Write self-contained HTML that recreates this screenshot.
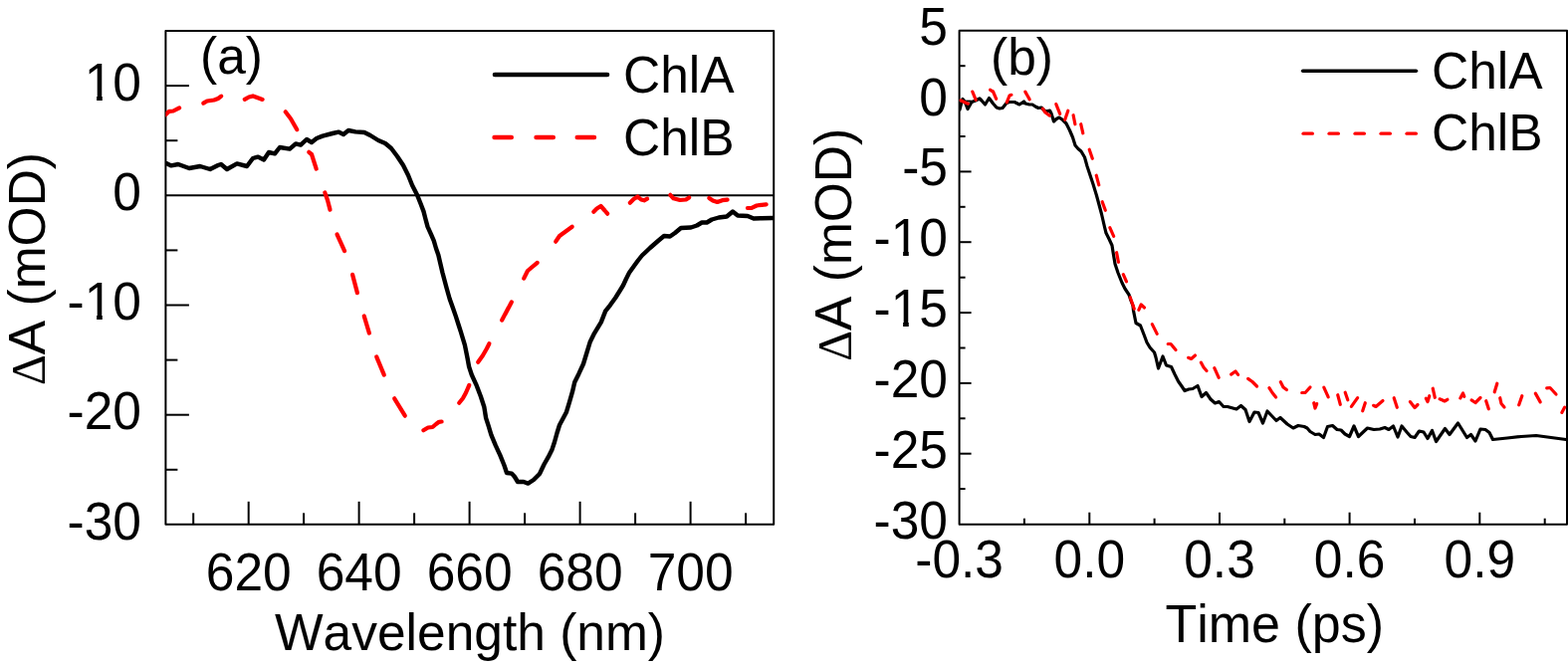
<!DOCTYPE html>
<html><head><meta charset="utf-8"><title>Transient absorption</title>
<style>html,body{margin:0;padding:0;background:#fff;width:1575px;height:670px;overflow:hidden}svg{display:block}</style>
</head><body>
<svg width="1575" height="670" viewBox="0 0 1575 670">
<rect width="1575" height="670" fill="#fff"/>
<defs><clipPath id="ca"><rect x="166.4" y="31.1" width="610.8" height="495.7"/></clipPath><clipPath id="cb"><rect x="963.6" y="30.8" width="610.4" height="495.9"/></clipPath></defs>
<g stroke="#000" stroke-width="2" fill="none" stroke-linejoin="round">
<rect x="166.4" y="31.1" width="610.8000000000001" height="495.69999999999993"/>
<line x1="166.4" y1="86.10000000000002" x2="189.9" y2="86.10000000000002"/>
<line x1="166.4" y1="306.5" x2="189.9" y2="306.5"/>
<line x1="166.4" y1="416.7" x2="189.9" y2="416.7"/>
<line x1="166.4" y1="141.20000000000002" x2="178.4" y2="141.20000000000002"/>
<line x1="166.4" y1="251.4" x2="178.4" y2="251.4"/>
<line x1="166.4" y1="361.6" x2="178.4" y2="361.6"/>
<line x1="166.4" y1="471.8" x2="178.4" y2="471.8"/>
<line x1="249.7" y1="526.8" x2="249.7" y2="503.79999999999995"/>
<line x1="360.6" y1="526.8" x2="360.6" y2="503.79999999999995"/>
<line x1="471.6" y1="526.8" x2="471.6" y2="503.79999999999995"/>
<line x1="582.6" y1="526.8" x2="582.6" y2="503.79999999999995"/>
<line x1="693.6" y1="526.8" x2="693.6" y2="503.79999999999995"/>
<line x1="194.2" y1="526.8" x2="194.2" y2="515.3"/>
<line x1="305.1" y1="526.8" x2="305.1" y2="515.3"/>
<line x1="416.1" y1="526.8" x2="416.1" y2="515.3"/>
<line x1="527.1" y1="526.8" x2="527.1" y2="515.3"/>
<line x1="638.1" y1="526.8" x2="638.1" y2="515.3"/>
<line x1="749.1" y1="526.8" x2="749.1" y2="515.3"/>
</g>
<line x1="166.4" y1="196.30" x2="777.2" y2="196.30" stroke="#000" stroke-width="2"/>
<polyline clip-path="url(#ca)" points="167.0,164.0 172.0,166.4 179.0,165.0 190.0,169.0 201.0,167.0 211.0,170.0 219.0,166.0 222.0,165.0 228.0,170.0 238.0,164.4 248.0,167.0 254.0,159.0 259.0,157.6 265.0,160.4 270.0,153.0 276.0,154.4 281.0,148.0 291.0,149.6 297.0,144.4 302.0,145.6 308.0,140.0 313.0,143.0 318.0,139.0 324.0,136.6 334.0,134.0 340.0,132.6 345.0,135.0 350.0,131.0 357.0,132.4 366.0,133.0 372.0,136.0 380.0,141.0 387.0,144.0 393.0,149.0 399.0,157.0 405.0,166.0 410.0,176.0 414.0,186.0 416.3,190.5 419.2,196.3 422.4,204.3 425.5,212.4 427.3,219.5 429.5,227.6 433.1,235.7 435.8,241.9 438.0,249.5 440.3,256.0 444.5,274.0 448.5,289.0 451.6,300.0 455.0,309.5 457.9,317.9 460.5,326.0 462.8,333.1 466.9,346.6 469.5,359.5 471.1,368.4 473.8,376.5 478.3,386.3 482.8,398.0 486.3,408.7 488.1,419.8 490.7,427.9 493.4,436.9 497.9,447.6 502.4,457.4 506.5,467.5 509.0,475.0 514.0,475.6 517.0,479.0 520.0,484.0 526.0,484.0 530.4,485.6 536.0,482.0 542.0,476.0 546.5,466.5 550.7,459.2 554.3,452.1 557.0,444.0 559.5,435.0 562.0,427.0 568.8,414.3 572.0,403.9 575.0,393.4 577.2,384.0 581.3,375.7 586.0,365.5 592.6,343.8 597.0,334.8 603.8,323.6 608.2,312.4 612.7,306.8 618.3,299.0 623.9,290.0 626.0,286.5 629.0,280.0 632.0,274.0 637.0,267.0 641.0,261.5 645.0,256.5 653.0,249.0 661.0,242.0 667.0,237.0 673.0,237.5 678.0,234.0 684.0,229.0 694.0,228.5 700.0,226.5 705.0,223.5 710.0,223.5 715.0,220.5 722.0,218.5 730.0,217.5 736.0,212.5 741.0,216.5 751.0,217.0 757.0,219.5 765.0,219.2 776.0,219.0" fill="none" stroke="#000" stroke-width="4.4" stroke-linejoin="round" stroke-linecap="round"/>
<g clip-path="url(#ca)" fill="none" stroke="#f00" stroke-width="4.2" stroke-linecap="round" stroke-linejoin="round">
<polyline points="166.3,115.2 170.0,111.8 174.0,111.5 180.1,108.4"/>
<polyline points="204.3,103.6 208.0,101.5 215.0,100.5 219.0,99.0 222.2,96.6"/>
<polyline points="245.8,99.8 250.0,97.5 254.0,96.4 259.0,98.3 263.6,99.9"/>
<polyline points="286.7,112.3 292.0,119.2 298.3,130.2"/>
<polyline points="310.3,152.8 313.0,155.0 317.7,169.6"/>
<polyline points="326.3,193.4 329.0,201.0 331.5,210.6"/>
<polyline points="338.5,235.4 346.1,252.1"/>
<polyline points="354.1,275.9 358.9,294.1"/>
<polyline points="365.7,317.4 370.9,334.6"/>
<polyline points="378.2,358.4 385.8,376.6"/>
<polyline points="396.2,400.3 406.8,417.7"/>
<polyline points="425.3,432.3 430.0,429.5 434.5,429.0 438.0,426.0 441.0,423.8 443.6,423.5"/>
<polyline points="461.2,404.7 465.0,400.0 468.0,394.5 471.3,386.9"/>
<polyline points="480.2,363.7 485.0,357.0 489.0,350.0 491.4,345.2"/>
<polyline points="504.2,321.6 513.8,303.4"/>
<polyline points="526.2,279.6 530.0,272.0 539.7,263.9"/>
<polyline points="558.2,242.7 562.0,237.0 574.7,227.8"/>
<polyline points="596.3,212.7 599.5,209.5 603.5,207.0 607.5,211.5 610.2,214.7"/>
<polyline points="632.8,203.7 636.5,200.0 640.5,197.5 644.0,200.5 647.0,201.3 650.1,199.7"/>
<polyline points="673.3,195.8 676.5,199.3 683.0,201.0 689.0,200.5 692.2,198.4"/>
<polyline points="712.3,199.0 716.0,201.5 720.5,203.0 725.5,201.2 730.6,200.6"/>
<polyline points="750.9,209.0 755.0,208.8 760.0,206.5 765.0,205.8 769.6,205.3"/>
</g>
<g stroke="#000" stroke-width="2" fill="none" stroke-linejoin="round">
<rect x="963.6" y="30.8" width="610.4" height="495.9"/>
<line x1="963.6" y1="101.6" x2="975.6" y2="101.6"/>
<line x1="963.6" y1="172.4" x2="975.6" y2="172.4"/>
<line x1="963.6" y1="243.2" x2="975.6" y2="243.2"/>
<line x1="963.6" y1="314.1" x2="975.6" y2="314.1"/>
<line x1="963.6" y1="384.9" x2="975.6" y2="384.9"/>
<line x1="963.6" y1="455.7" x2="975.6" y2="455.7"/>
<line x1="963.6" y1="66.2" x2="969.6" y2="66.2"/>
<line x1="963.6" y1="137.0" x2="969.6" y2="137.0"/>
<line x1="963.6" y1="207.8" x2="969.6" y2="207.8"/>
<line x1="963.6" y1="278.7" x2="969.6" y2="278.7"/>
<line x1="963.6" y1="349.5" x2="969.6" y2="349.5"/>
<line x1="963.6" y1="420.3" x2="969.6" y2="420.3"/>
<line x1="963.6" y1="491.1" x2="969.6" y2="491.1"/>
<line x1="1094.3" y1="526.7" x2="1094.3" y2="514.7"/>
<line x1="1225.0" y1="526.7" x2="1225.0" y2="514.7"/>
<line x1="1355.6" y1="526.7" x2="1355.6" y2="514.7"/>
<line x1="1486.3" y1="526.7" x2="1486.3" y2="514.7"/>
<line x1="1028.9" y1="526.7" x2="1028.9" y2="520.7"/>
<line x1="1159.6" y1="526.7" x2="1159.6" y2="520.7"/>
<line x1="1290.3" y1="526.7" x2="1290.3" y2="520.7"/>
<line x1="1421.0" y1="526.7" x2="1421.0" y2="520.7"/>
<line x1="1551.7" y1="526.7" x2="1551.7" y2="520.7"/>
</g>
<polyline clip-path="url(#cb)" points="964.0,110.0 965.0,106.0 967.0,99.5 969.5,103.0 972.0,109.5 976.0,102.5 980.0,101.0 984.0,99.0 986.0,101.0 989.5,105.0 993.5,98.5 997.5,104.0 1001.0,108.0 1004.0,109.0 1007.0,108.5 1011.0,103.5 1014.0,102.5 1019.0,102.5 1024.0,105.0 1028.5,102.0 1030.0,104.0 1034.0,105.0 1037.0,105.0 1040.0,107.0 1043.0,108.5 1046.0,108.0 1050.0,112.0 1054.5,111.0 1056.0,114.0 1058.5,122.0 1061.0,119.5 1064.0,118.0 1067.5,120.5 1071.0,124.0 1074.5,131.0 1077.5,138.0 1080.0,146.0 1083.0,149.5 1086.0,152.0 1089.5,158.0 1092.0,167.0 1095.0,176.0 1098.0,185.0 1101.5,196.5 1103.0,202.0 1106.5,215.0 1109.5,228.0 1111.0,234.0 1114.0,240.0 1117.0,246.5 1118.0,253.0 1120.0,265.0 1123.0,274.0 1127.0,284.0 1130.0,290.0 1134.0,296.0 1136.0,302.0 1138.0,307.0 1138.5,312.0 1141.0,324.5 1145.5,327.0 1149.0,336.0 1152.0,344.0 1155.0,349.0 1159.5,354.0 1161.0,359.0 1163.5,370.0 1168.0,358.0 1171.5,367.0 1176.5,368.5 1180.0,376.0 1183.5,383.0 1187.0,388.0 1190.0,392.5 1194.0,391.0 1198.0,390.5 1203.0,387.5 1207.0,398.5 1211.5,394.5 1216.0,401.0 1220.5,405.0 1224.5,403.5 1229.0,408.5 1233.0,408.5 1242.0,411.0 1246.5,407.5 1251.0,411.5 1255.0,423.5 1260.0,414.0 1264.0,414.5 1268.5,425.0 1273.0,413.0 1282.0,422.5 1286.0,419.5 1293.0,426.0 1299.0,430.0 1304.0,427.5 1310.0,428.5 1313.0,430.0 1316.0,433.5 1321.0,436.5 1325.0,436.0 1329.5,439.5 1333.5,428.5 1338.5,427.5 1343.0,431.5 1347.0,432.0 1351.0,436.0 1355.5,438.5 1360.0,428.0 1364.5,438.5 1373.5,430.0 1380.0,431.5 1386.0,431.0 1391.0,429.5 1395.0,431.5 1399.5,428.0 1404.0,439.0 1408.0,428.0 1413.0,434.0 1417.0,438.5 1421.0,439.5 1425.5,433.0 1430.0,434.0 1434.0,440.5 1438.5,432.5 1442.5,443.5 1451.5,430.5 1456.0,436.5 1464.5,425.0 1473.5,439.5 1477.5,436.5 1482.0,443.0 1487.0,431.0 1492.0,431.5 1496.0,434.5 1499.5,441.5 1514.0,440.0 1528.0,438.5 1543.0,437.5 1558.0,439.5 1573.0,441.5" fill="none" stroke="#000" stroke-width="3.2" stroke-linejoin="round" stroke-linecap="round"/>
<g clip-path="url(#cb)" fill="none" stroke="#f00" stroke-width="3.2" stroke-linecap="round" stroke-linejoin="round">
<polyline points="964.6,100.8 972.4,104.2"/>
<polyline points="976.8,92.1 980.2,100.4"/>
<polyline points="994.6,90.3 997.5,92.0 1000.7,99.4"/>
<polyline points="1011.3,102.9 1014.0,96.0 1015.9,95.3"/>
<polyline points="1029.8,92.1 1032.0,96.0 1034.2,99.9"/>
<polyline points="1047.4,109.1 1050.0,113.0 1054.4,116.1"/>
<polyline points="1060.8,104.6 1064.7,114.4"/>
<polyline points="1069.7,120.3 1072.8,111.2"/>
<polyline points="1078.1,115.7 1079.9,124.8"/>
<polyline points="1085.7,124.7 1087.8,133.8"/>
<polyline points="1094.2,150.2 1097.3,159.3"/>
<polyline points="1101.2,176.2 1103.8,185.8"/>
<polyline points="1107.2,202.7 1110.3,211.3"/>
<polyline points="1114.8,228.6 1118.7,237.4"/>
<polyline points="1121.6,253.7 1123.4,263.3"/>
<polyline points="1128.3,275.6 1131.5,282.9"/>
<polyline points="1135.2,298.7 1139.3,310.3"/>
<polyline points="1143.8,311.4 1146.2,306.0 1149.5,309.0"/>
<polyline points="1157.3,325.6 1162.2,335.4"/>
<polyline points="1173.2,345.5 1176.0,345.5 1181.0,351.5"/>
<polyline points="1193.6,359.3 1196.5,360.5 1200.5,357.0"/>
<polyline points="1206.3,364.1 1209.0,369.0 1212.0,372.5"/>
<polyline points="1219.8,369.6 1224.2,379.4"/>
<polyline points="1236.6,376.1 1241.0,373.0 1243.6,376.4"/>
<polyline points="1253.6,380.4 1258.0,383.5 1262.5,388.0"/>
<polyline points="1274.9,389.6 1278.0,394.5 1281.6,399.0"/>
<polyline points="1286.3,383.6 1289.0,389.0 1292.4,391.6"/>
<polyline points="1307.7,394.5 1311.0,394.5 1316.0,389.0"/>
<polyline points="1319.7,404.7 1321.0,410.0 1322.7,405.6"/>
<polyline points="1329.8,389.1 1334.2,398.9"/>
<polyline points="1343.7,396.7 1346.3,406.3"/>
<polyline points="1351.2,394.2 1353.8,401.8"/>
<polyline points="1357.4,408.4 1363.6,399.6"/>
<polyline points="1368.7,412.8 1371.3,404.7"/>
<polyline points="1379.6,407.3 1382.0,408.5 1389.0,402.5"/>
<polyline points="1400.2,399.7 1403.3,409.3"/>
<polyline points="1416.4,403.6 1421.0,409.5 1424.0,406.5"/>
<polyline points="1432.3,400.1 1434.0,403.5 1435.8,397.7"/>
<polyline points="1439.2,390.2 1441.3,399.3"/>
<polyline points="1446.1,400.8 1449.0,402.0 1451.0,403.0 1453.9,401.3"/>
<polyline points="1466.8,399.9 1469.5,395.0 1470.8,398.3"/>
<polyline points="1478.1,401.9 1482.0,404.5 1487.0,399.5"/>
<polyline points="1492.7,402.7 1495.3,410.8"/>
<polyline points="1501.2,393.8 1503.8,385.2"/>
<polyline points="1506.7,399.7 1508.0,405.5 1511.0,409.0"/>
<polyline points="1525.7,406.8 1528.8,397.7"/>
<polyline points="1542.3,395.1 1547.2,403.9"/>
<polyline points="1553.7,389.9 1557.0,389.5 1563.0,396.0"/>
<polyline points="1568.8,414.4 1571.7,409.1"/>
</g>
<line x1="497" y1="75" x2="610" y2="75" stroke="#000" stroke-width="4.6" stroke-linecap="round"/>
<g stroke="#f00" stroke-width="4.6" stroke-linecap="round">
<line x1="496.6" y1="138" x2="513.7" y2="138"/>
<line x1="538.5999999999999" y1="138" x2="555.7" y2="138"/>
<line x1="579.8" y1="138" x2="596.9000000000001" y2="138"/>
</g>
<line x1="1308.6" y1="71.2" x2="1422.5" y2="71.2" stroke="#000" stroke-width="3.4" stroke-linecap="round"/>
<g stroke="#f00" stroke-width="3.2" stroke-linecap="round">
<line x1="1309.0" y1="134.2" x2="1318.4" y2="134.2"/>
<line x1="1335.0" y1="134.2" x2="1344.4" y2="134.2"/>
<line x1="1361.0" y1="134.2" x2="1370.4" y2="134.2"/>
<line x1="1387.0" y1="134.2" x2="1396.4" y2="134.2"/>
<line x1="1413.0" y1="134.2" x2="1422.4" y2="134.2"/>
</g>
<g style="font-kerning:none" font-family="Liberation Sans, Arial, sans-serif" font-size="51.5" fill="#000">
<text transform="translate(142.0,100.7) scale(1,1.04)" text-anchor="end">10</text>
<text transform="translate(142.0,210.9) scale(1,1.04)" text-anchor="end">0</text>
<text transform="translate(142.0,321.1) scale(1,1.04)" text-anchor="end">-10</text>
<text transform="translate(142.0,431.3) scale(1,1.04)" text-anchor="end">-20</text>
<text transform="translate(142.0,541.5) scale(1,1.04)" text-anchor="end">-30</text>
<text transform="translate(249.7,593.0) scale(1,1.04)" text-anchor="middle">620</text>
<text transform="translate(360.6,593.0) scale(1,1.04)" text-anchor="middle">640</text>
<text transform="translate(471.6,593.0) scale(1,1.04)" text-anchor="middle">660</text>
<text transform="translate(582.6,593.0) scale(1,1.04)" text-anchor="middle">680</text>
<text transform="translate(693.6,593.0) scale(1,1.04)" text-anchor="middle">700</text>
<text transform="translate(276,653) scale(1,1.02)">Wavelength (nm)</text>
<text transform="translate(45.2,387) rotate(-90)"><tspan font-family="Liberation Serif, serif" font-size="48">Δ</tspan>A (mOD)</text>
<text x="201" y="74.3">(a)</text>
<text transform="translate(626,93) scale(1,1.02)">ChlA</text>
<text transform="translate(626,155.6) scale(1,1.02)">ChlB</text>
<text transform="translate(952.0,44.8) scale(1,1.04)" text-anchor="end">5</text>
<text transform="translate(952.0,115.6) scale(1,1.04)" text-anchor="end">0</text>
<text transform="translate(952.0,186.4) scale(1,1.04)" text-anchor="end">-5</text>
<text transform="translate(952.0,257.2) scale(1,1.04)" text-anchor="end">-10</text>
<text transform="translate(952.0,328.1) scale(1,1.04)" text-anchor="end">-15</text>
<text transform="translate(952.0,398.9) scale(1,1.04)" text-anchor="end">-20</text>
<text transform="translate(952.0,469.7) scale(1,1.04)" text-anchor="end">-25</text>
<text transform="translate(952.0,540.5) scale(1,1.04)" text-anchor="end">-30</text>
<text transform="translate(963.6,579.6) scale(1,1.04)" text-anchor="middle">-0.3</text>
<text transform="translate(1094.3,579.6) scale(1,1.04)" text-anchor="middle">0.0</text>
<text transform="translate(1225.0,579.6) scale(1,1.04)" text-anchor="middle">0.3</text>
<text transform="translate(1355.6,579.6) scale(1,1.04)" text-anchor="middle">0.6</text>
<text transform="translate(1486.3,579.6) scale(1,1.04)" text-anchor="middle">0.9</text>
<text transform="translate(1170.5,645.4) scale(1,1.02)" font-size="52">Time (ps)</text>
<text transform="translate(854.7,362.8) rotate(-90)"><tspan font-family="Liberation Serif, serif" font-size="48">Δ</tspan>A (mOD)</text>
<text x="995" y="74.5">(b)</text>
<text transform="translate(1438,88.6) scale(1,1.02)">ChlA</text>
<text transform="translate(1438,151) scale(1,1.02)">ChlB</text>
</g>
<g fill="#fff"><rect x="87.65" y="96.09" width="9.46" height="5.81"/><rect x="102.79" y="96.09" width="9.70" height="5.81"/><rect x="87.65" y="316.49" width="9.46" height="5.81"/><rect x="102.79" y="316.49" width="9.70" height="5.81"/><rect x="897.65" y="252.64" width="9.46" height="5.81"/><rect x="912.79" y="252.64" width="9.70" height="5.81"/><rect x="897.65" y="323.45" width="9.46" height="5.81"/><rect x="912.79" y="323.45" width="9.70" height="5.81"/></g>
</svg>
</body></html>
